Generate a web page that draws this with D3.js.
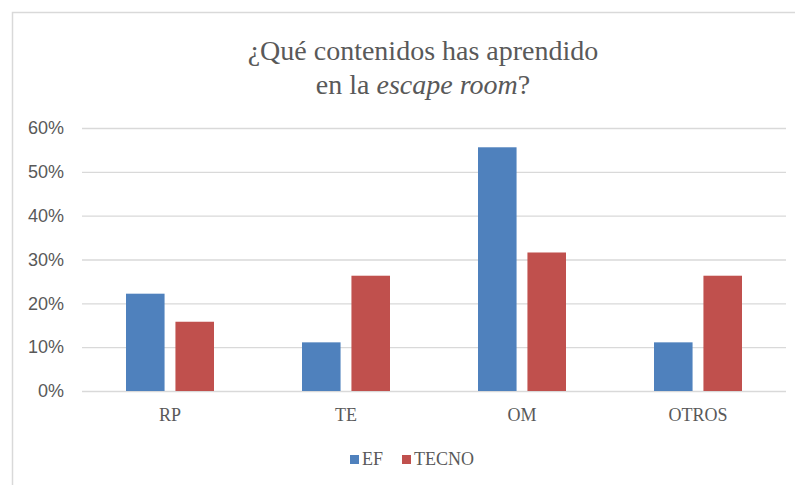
<!DOCTYPE html>
<html>
<head>
<meta charset="utf-8">
<script src="https://cdn.jsdelivr.net/npm/d3@7"></script>
<style>
  body { margin: 0; background: #fff; }
  svg { display: block; }
</style>
</head>
<body>
<div id="chart"></div>
<script>
const categories = ["RP", "TE", "OM", "OTROS"];
const seriesNames = ["EF", "TECNO"];
const efValues = [0.222, 0.111, 0.556, 0.111];
const tecnoValues = [0.158, 0.263, 0.316, 0.263];
const yTicks = [0, 0.1, 0.2, 0.3, 0.4, 0.5, 0.6];

const colors = { EF: "#4f81bd", TECNO: "#c0504d" };

const width = 795;
const height = 485;
const margin = { top: 128, right: 9, bottom: 94, left: 82 };

const data = categories.map((c, i) => ({
  cat: c,
  values: [
    { key: "EF", value: efValues[i] },
    { key: "TECNO", value: tecnoValues[i] }
  ]
}));

const svg = d3.select("#chart")
  .append("svg")
  .attr("width", width)
  .attr("height", height);

// chart frame (only top and left edges are visible)
svg.append("path")
  .attr("d", `M12.5,${height + 2} V12.5 H${width + 2}`)
  .attr("fill", "none")
  .attr("stroke", "#d9d9d9")
  .attr("stroke-width", 1.5);

// title
const title = svg.append("text")
  .attr("text-anchor", "middle")
  .attr("font-family", "Liberation Serif")
  .attr("font-size", 28)
  .attr("fill", "#595959");
title.append("tspan").attr("x", 423).attr("y", 60).text("¿Qué contenidos has aprendido");
const t2 = title.append("tspan").attr("x", 423).attr("y", 94);
t2.append("tspan").text("en la ");
t2.append("tspan").attr("font-style", "italic").text("escape room");
t2.append("tspan").text("?");

const x0 = d3.scaleBand()
  .domain(categories)
  .range([margin.left, width - margin.right])
  .paddingInner(0.5)
  .paddingOuter(0.25);

const x1 = d3.scaleBand()
  .domain(seriesNames)
  .range([0, x0.bandwidth()])
  .paddingInner(0.22);

const y = d3.scaleLinear()
  .domain([0, 0.6])
  .range([height - margin.bottom, margin.top]);

// gridlines + y labels
const yAxis = svg.append("g")
  .attr("transform", `translate(${margin.left},0)`)
  .call(d3.axisLeft(y)
    .tickValues(yTicks)
    .tickFormat(d3.format(".0%"))
    .tickSize(-(width - margin.left - margin.right))
    .tickPadding(18));
yAxis.select(".domain").remove();
yAxis.selectAll(".tick line").attr("stroke", "#d9d9d9").attr("stroke-width", 1.3);
yAxis.selectAll(".tick text")
  .attr("font-family", "Liberation Sans")
  .attr("font-size", 18)
  .attr("fill", "#595959");

// bars
svg.append("g")
  .selectAll("g")
  .data(data)
  .join("g")
  .attr("transform", d => `translate(${x0(d.cat)},0)`)
  .selectAll("rect")
  .data(d => d.values)
  .join("rect")
  .attr("x", d => x1(d.key))
  .attr("y", d => y(d.value))
  .attr("width", x1.bandwidth())
  .attr("height", d => y(0) - y(d.value))
  .attr("fill", d => colors[d.key]);

// x labels
const xAxis = svg.append("g")
  .attr("transform", `translate(0,${height - margin.bottom})`)
  .call(d3.axisBottom(x0).tickSize(0).tickPadding(17));
xAxis.select(".domain").remove();
xAxis.selectAll(".tick text")
  .attr("font-family", "Liberation Serif")
  .attr("font-size", 18)
  .attr("fill", "#595959");

// legend
const legend = svg.append("g");
const legendItems = [
  { key: "EF", x: 350 },
  { key: "TECNO", x: 402 }
];
legendItems.forEach(item => {
  legend.append("rect")
    .attr("x", item.x)
    .attr("y", 455)
    .attr("width", 9)
    .attr("height", 9)
    .attr("fill", colors[item.key]);
  legend.append("text")
    .attr("x", item.x + 12)
    .attr("y", 465)
    .attr("font-family", "Liberation Serif")
    .attr("font-size", 18)
    .attr("fill", "#595959")
    .text(item.key);
});
</script>
</body>
</html>
